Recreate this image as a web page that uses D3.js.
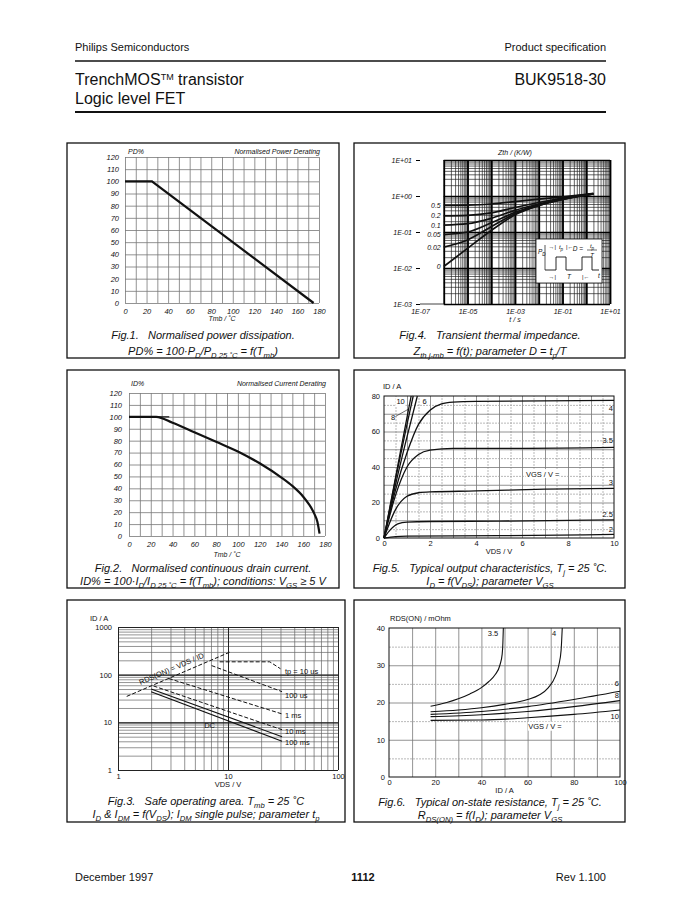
<!DOCTYPE html>
<html>
<head>
<meta charset="utf-8">
<script src="https://cdn.jsdelivr.net/npm/d3@7"></script>
<style>
  body { margin: 0; background: #fff; }
  svg text { font-family: "Liberation Sans", Arial, Helvetica, sans-serif; fill: #111; }
</style>
</head>
<body>
<div id="page"></div>
<script>
var FONT = '"Liberation Sans", Arial, Helvetica, sans-serif';

// ---------- data ----------
// Fig.1 normalised power derating
var pdTmb = [0, 25, 175];
var pdPct = [100, 100, 0];
var derateXTicks = [0, 20, 40, 60, 80, 100, 120, 140, 160, 180];
var derateYTicks = [0, 10, 20, 30, 40, 50, 60, 70, 80, 90, 100, 110, 120];

// Fig.2 normalised current derating
var idTmb = [0, 25, 40, 60, 80, 100, 120, 140, 150, 160, 165, 170, 173, 175];
var idPct = [100, 100, 95, 87, 79, 71, 61, 49, 42, 33, 27, 19, 12, 2];

// Fig.3 safe operating area (VDS / V, ID / A)
var soaXTicks = [1, 10, 100];
var soaYTicks = [1, 10, 100, 1000];
var rdsLimitV = [1.2, 10.5];
var rdsLimitI = [35, 300];
var tp10usV = [8.4, 24, 30];
var tp10usI = [186, 186, 133];
var tp100usV = [7.1, 31];
var tp100usI = [155, 44];
var tp1msV = [2.9, 31];
var tp1msI = [83, 15];
var tp10msV = [2.1, 31];
var tp10msI = [58, 7];
var tp100msV = [2, 31];
var tp100msI = [50, 5];
var dcV = [2, 31];
var dcI = [44, 4];
var soaNames = ["tp = 10 us", "100 us", "1 ms", "10 ms", "100 ms"];
var soaNameI = [118, 38, 14, 6.6, 3.9];

// Fig.4 transient thermal impedance
var zthT = [1e-6, 1e-5, 1e-4, 1e-3, 1e-2, 1e-1, 1, 2];
var zthD = ["0.5", "0.2", "0.1", "0.05", "0.02", "0"];
var zth05 = [0.55, 0.56, 0.6, 0.7, 0.82, 0.95, 1.12, 1.18];
var zth02 = [0.28, 0.29, 0.34, 0.48, 0.66, 0.88, 1.1, 1.16];
var zth01 = [0.155, 0.17, 0.24, 0.4, 0.6, 0.84, 1.08, 1.15];
var zth005 = [0.085, 0.1, 0.18, 0.35, 0.57, 0.82, 1.07, 1.14];
var zth002 = [0.038, 0.06, 0.14, 0.32, 0.55, 0.81, 1.07, 1.14];
var zth0 = [0.011, 0.035, 0.11, 0.3, 0.54, 0.8, 1.06, 1.13];
var zthXTicks = [1e-7, 1e-5, 1e-3, 1e-1, 1e1];
var zthYTicks = [1e-3, 1e-2, 1e-1, 1e0, 1e1];

// Fig.5 output characteristics (VDS / V, ID / A) per VGS
var out10 = [[0, 0], [0.5, 34], [1, 68], [1.18, 80]];
var out8 = [[0, 0], [0.5, 33], [1, 64], [1.27, 80]];
var out6 = [[0, 0], [0.5, 30], [1, 57], [1.45, 80]];
var out4 = [[0, 0], [0.5, 27], [1, 48], [1.5, 64], [2, 72], [2.5, 75.5], [3, 76.5], [4, 77], [10, 77.5]];
var out35 = [[0, 0], [0.5, 24], [1, 40], [1.5, 47], [2, 49.5], [3, 50.5], [6, 50.5], [10, 51]];
var out3 = [[0, 0], [0.5, 16], [1, 23.5], [1.5, 25.5], [2, 26], [4, 26.5], [7, 27.5], [10, 28]];
var out25 = [[0, 0], [0.3, 5], [0.6, 8], [1, 9], [2, 9.3], [5, 9.5], [10, 10.2]];
var out2 = [[0, 0], [0.5, 0.8], [1, 1], [5, 1.3], [10, 2]];
var outRightNames = ["4", "3.5", "3", "2.5", "2"];
var outRightAt = [73, 55, 31.5, 13.5, 5];
var outXTicks = [0, 2, 4, 6, 8, 10];
var outYTicks = [0, 20, 40, 60, 80];

// Fig.6 on-state resistance (ID / A, RDS(ON) / mOhm) per VGS
var rds35 = [[18, 19], [25, 20], [30, 21], [35, 22.3], [40, 24], [43, 25.5], [46, 27.5], [48, 30], [49, 33], [49.3, 36], [49.5, 40]];
var rds4 = [[18, 17.5], [30, 18], [40, 18.6], [50, 19.5], [60, 20.8], [65, 22], [69, 24], [72, 27], [73.5, 30], [74.5, 34], [75, 40]];
var rds6 = [[18, 16.8], [40, 17.6], [60, 18.9], [80, 20.8], [100, 23]];
var rds8 = [[18, 16.2], [40, 16.7], [60, 17.6], [80, 18.9], [100, 20.5]];
var rds10 = [[18, 15.2], [40, 15.3], [60, 15.9], [80, 16.8], [100, 18]];
var rdsRightNames = ["6", "8", "10"];
var rdsRightAt = [25, 21.8, 16.3];
var rdsXTicks = [0, 20, 40, 60, 80, 100];
var rdsYTicks = [0, 10, 20, 30, 40];

// ---------- page ----------
var svg = d3.select("#page").append("svg")
    .attr("width", 679)
    .attr("height", 901);
svg.append("rect").attr("width", 679).attr("height", 901).attr("fill", "#fff");

function label(x, y, s, size, anchor, italic, weight) {
    return svg.append("text")
        .attr("x", x).attr("y", y)
        .attr("font-size", size)
        .attr("text-anchor", anchor || "start")
        .attr("font-style", italic ? "italic" : "normal")
        .attr("font-weight", weight || "normal")
        .style("white-space", "pre")
        .text(s);
}

// text with subscripts: parts = [[text, isSub], ...]
function rich(x, y, parts, size, anchor) {
    var t = svg.append("text")
        .attr("x", x).attr("y", y)
        .attr("font-size", size)
        .attr("text-anchor", anchor || "middle")
        .attr("font-style", "italic")
        .style("white-space", "pre");
    var low = false;
    parts.forEach(function (p) {
        var s = t.append("tspan").text(p[0]);
        if (p[1]) {
            s.attr("font-size", size * 0.7);
            if (!low) { s.attr("dy", 2.5); low = true; }
        } else if (low) {
            s.attr("dy", -2.5); low = false;
        }
    });
    return t;
}

function box(x0, y0, x1, y1) {
    svg.append("rect")
        .attr("x", x0).attr("y", y0)
        .attr("width", x1 - x0).attr("height", y1 - y0)
        .attr("fill", "none").attr("stroke", "#111").attr("stroke-width", 1.3);
}

function line(x0, y0, x1, y1, w) {
    svg.append("line").attr("x1", x0).attr("y1", y0).attr("x2", x1).attr("y2", y1)
        .attr("stroke", "#111").attr("stroke-width", w);
}

// gridlines (axis ticks with a long tick size)
function vGrid(x, y, vals, color, w, dash) {
    var g = svg.append("g")
        .attr("transform", "translate(0," + y.range()[0] + ")")
        .call(d3.axisBottom(x).tickValues(vals)
            .tickSize(-(y.range()[0] - y.range()[1]))
            .tickFormat(""));
    g.select(".domain").remove();
    g.selectAll("line").attr("stroke", color).attr("stroke-width", w)
        .attr("stroke-dasharray", dash || null);
}
function hGrid(x, y, vals, color, w, dash, x0v) {
    var xs = x0v === undefined ? x.range()[0] : x(x0v);
    var g = svg.append("g")
        .attr("transform", "translate(" + xs + ",0)")
        .call(d3.axisLeft(y).tickValues(vals)
            .tickSize(-(x.range()[1] - xs))
            .tickFormat(""));
    g.select(".domain").remove();
    g.selectAll("line").attr("stroke", color).attr("stroke-width", w)
        .attr("stroke-dasharray", dash || null);
}

function tickLabels(x, y, xv, yv, fx, fy, size, italic, padX, padY) {
    var ax = svg.append("g")
        .attr("transform", "translate(0," + y.range()[0] + ")")
        .call(d3.axisBottom(x).tickValues(xv).tickSize(0).tickPadding(padX).tickFormat(fx));
    var ay = svg.append("g")
        .attr("transform", "translate(" + x.range()[0] + ",0)")
        .call(d3.axisLeft(y).tickValues(yv).tickSize(0).tickPadding(padY).tickFormat(fy));
    [ax, ay].forEach(function (a) {
        a.select(".domain").remove();
        a.attr("font-family", FONT).attr("font-size", size)
            .attr("font-style", italic ? "italic" : "normal");
        a.selectAll("text").attr("fill", "#111");
    });
}

function logVals(lo, hi) {
    var v = [];
    for (var e = lo; e < hi; e++)
        for (var k = 1; k < 10; k++) v.push(k * Math.pow(10, e));
    v.push(Math.pow(10, hi));
    return v;
}

// 1E+01 style labels
function sciFmt(v) {
    var e = Math.round(Math.log10(v));
    return "1E" + (e < 0 ? "-" : "+") + (Math.abs(e) < 10 ? "0" : "") + Math.abs(e);
}

function curve(x, y, pts, w, dash, smooth) {
    svg.append("path")
        .datum(pts)
        .attr("fill", "none")
        .attr("stroke", "#111")
        .attr("stroke-width", w)
        .attr("stroke-dasharray", dash || null)
        .attr("d", d3.line()
            .x(function (d) { return x(d[0]); })
            .y(function (d) { return y(d[1]); })
            .curve(smooth ? d3.curveMonotoneX : d3.curveLinear));
}

function zip(a, b) { return a.map(function (v, i) { return [v, b[i]]; }); }

// ---------- header / footer ----------
label(75, 51, "Philips Semiconductors", 11);
label(606, 51, "Product specification", 11, "end");
line(75, 61, 606, 61, 1.6);
var tt = label(75, 85, "TrenchMOS", 16);
tt.append("tspan").attr("font-size", 9).attr("dy", -5).text("TM");
tt.append("tspan").attr("dy", 5).text(" transistor");
label(75, 104, "Logic level FET", 16);
label(606, 85, "BUK9518-30", 16, "end");
line(75, 112, 606, 112, 2);

label(75, 881, "December 1997", 11);
label(363, 881, "1112", 11, "middle", false, "bold");
label(606, 881, "Rev 1.100", 11, "end");

// ---------- Fig.1 ----------
box(67, 143, 339, 358);
var x1 = d3.scaleLinear().domain([0, 180]).range([125, 319]);
var y1 = d3.scaleLinear().domain([0, 120]).range([303, 157]);
vGrid(x1, y1, d3.range(0, 181, 10), "#777", 0.8);
hGrid(x1, y1, d3.range(0, 121, 10), "#777", 0.8);
tickLabels(x1, y1, derateXTicks, derateYTicks, d3.format("d"), d3.format("d"), 7.5, true, 6, 6);
curve(x1, y1, zip(pdTmb, pdPct), 2.2);
label(128, 154, "PD%", 7, "start", true);
label(320, 154, "Normalised Power Derating", 7, "end", true);
label(x1(90), 321, "Tmb / ˚C", 7, "middle", true);
rich(203, 339, [["Fig.1.   Normalised power dissipation."]], 11);
rich(203, 355, [["PD% = 100·P"], ["D", 1], ["/P"], ["D 25 ˚C", 1], [" = f(T"], ["mb", 1], [")"]], 11);

// ---------- Fig.2 ----------
box(67, 370, 339, 588);
var x2 = d3.scaleLinear().domain([0, 180]).range([129, 325]);
var y2 = d3.scaleLinear().domain([0, 120]).range([536, 393]);
vGrid(x2, y2, d3.range(0, 181, 10), "#777", 0.8);
hGrid(x2, y2, d3.range(0, 121, 10), "#777", 0.8);
tickLabels(x2, y2, derateXTicks, derateYTicks, d3.format("d"), d3.format("d"), 7.5, true, 6, 7);
curve(x2, y2, [[25, 100], [37, 100]], 1.2);
curve(x2, y2, zip(idTmb, idPct), 2.2, null, true);
label(131, 386, "ID%", 7, "start", true);
label(326, 386, "Normalised Current Derating", 7, "end", true);
label(x2(90), 557, "Tmb / ˚C", 7, "middle", true);
rich(203, 572, [["Fig.2.   Normalised continuous drain current."]], 11);
rich(203, 585, [["ID% = 100·I"], ["D", 1], ["/I"], ["D 25 ˚C", 1], [" = f(T"], ["mb", 1], ["); conditions: V"], ["GS", 1], [" ≥ 5 V"]], 11);

// ---------- Fig.3 ----------
box(67, 600, 345, 822);
var x3 = d3.scaleLog().domain([1, 100]).range([118, 338]);
var y3 = d3.scaleLog().domain([1, 1000]).range([770, 627]);
vGrid(x3, y3, logVals(0, 2), "#666", 0.7);
hGrid(x3, y3, logVals(0, 3), "#666", 0.7);
vGrid(x3, y3, [1, 10, 100], "#222", 1);
hGrid(x3, y3, [1, 10, 100, 1000], "#222", 1.2);
tickLabels(x3, y3, soaXTicks, soaYTicks, d3.format("d"), d3.format("d"), 7.5, false, 4, 6);
curve(x3, y3, zip(rdsLimitV, rdsLimitI), 1, "4,2");
curve(x3, y3, zip(tp10usV, tp10usI), 1, "4,2");
curve(x3, y3, zip(tp100usV, tp100usI), 1, "4,2");
curve(x3, y3, zip(tp1msV, tp1msI), 1, "4,2");
curve(x3, y3, zip(tp10msV, tp10msI), 1, "4,2");
curve(x3, y3, zip(tp100msV, tp100msI), 1.1);
curve(x3, y3, zip(dcV, dcI), 1.1);
soaNames.forEach(function (n, i) {
    label(x3(33), y3(soaNameI[i]) + 3, n, 7.5);
});
label(x3(6.8), y3(9) + 3, "DC", 7.5, "middle");
var rAng = Math.atan2(y3(rdsLimitI[1]) - y3(rdsLimitI[0]), x3(rdsLimitV[1]) - x3(rdsLimitV[0])) * 180 / Math.PI;
var rx = (x3(rdsLimitV[0]) + x3(rdsLimitV[1])) / 2, ry = (y3(rdsLimitI[0]) + y3(rdsLimitI[1])) / 2;
label(0, 0, "RDS(ON) = VDS / ID", 7.5, "middle")
    .attr("transform", "translate(" + (rx - 6) + "," + (ry - 3) + ") rotate(" + rAng + ")");
label(90, 621, "ID / A", 7.5);
label(x3(10), 787, "VDS / V", 7.5, "middle");
rich(206, 805, [["Fig.3.   Safe operating area. T"], ["mb", 1], [" = 25 ˚C"]], 11);
rich(206, 818, [["I"], ["D", 1], [" & I"], ["DM", 1], [" = f(V"], ["DS", 1], ["); I"], ["DM", 1], [" single pulse; parameter t"], ["p", 1]], 11);

// ---------- Fig.4 ----------
box(354, 143, 625, 358);
var x4 = d3.scaleLog().domain([1e-7, 1e1]).range([420, 610]);
var y4 = d3.scaleLog().domain([1e-3, 1e1]).range([304, 160]);
vGrid(x4, y4, logVals(-6, 1), "#222", 0.7);
hGrid(x4, y4, logVals(-3, 1), "#222", 0.7, null, 1e-6);
vGrid(x4, y4, [1e-6, 1e-5, 1e-4, 1e-3, 1e-2, 1e-1, 1, 10], "#000", 1.8);
hGrid(x4, y4, [1e-3, 1e-2, 1e-1, 1, 10], "#000", 1.6, null, 1e-6);
tickLabels(x4, y4, zthXTicks, zthYTicks, sciFmt, sciFmt, 7, true, 5, 8);
var t4 = svg.append("g").attr("transform", "translate(420,0)")
    .call(d3.axisLeft(y4).tickValues(zthYTicks).tickSize(4).tickFormat(""));
t4.select(".domain").remove();
line(420, 304, x4(1e-6), 304, 0.8);
var zthAll = [zth05, zth02, zth01, zth005, zth002, zth0];
zthAll.forEach(function (z, i) {
    curve(x4, y4, zip(zthT, z), 1.7, null, true);
    label(x4(1e-6) - 3, y4(z[0]) + 2.5, zthD[i], 7, "end", true);
});
// pulse inset
var ix = 536, iy = 239;
svg.append("rect").attr("x", ix).attr("y", iy).attr("width", 66).attr("height", 44)
    .attr("fill", "#fff").attr("stroke", "#111").attr("stroke-width", 0.8);
svg.append("path").attr("fill", "none").attr("stroke", "#111").attr("stroke-width", 0.9)
    .attr("d", "M" + (ix + 9) + "," + (iy + 31) + "H" + (ix + 20) + "V" + (iy + 18) + "H" + (ix + 30) + "V" + (iy + 31)
        + "H" + (ix + 46) + "V" + (iy + 18) + "H" + (ix + 56) + "V" + (iy + 31) + "H" + (ix + 63));
line(ix + 9, iy + 31, ix + 9, iy + 6, 0.7);
var pd = label(ix + 2, iy + 15, "P", 6.5, "start", true);
pd.append("tspan").attr("font-size", 4.5).attr("dy", 2).text("D");
label(ix + 20, iy + 10, "→|", 6, "end");
var tp1 = label(ix + 25, iy + 10, "t", 6, "middle", true);
tp1.append("tspan").attr("font-size", 4.5).attr("dy", 1.5).text("p");
label(ix + 30, iy + 10, "|←", 6, "start");
label(ix + 47, iy + 12, "D =", 6.5, "end", true);
var tp2 = label(ix + 56, iy + 9, "t", 6, "middle", true);
tp2.append("tspan").attr("font-size", 4.5).attr("dy", 1.5).text("p");
line(ix + 51, iy + 11, ix + 61, iy + 11, 0.6);
label(ix + 56, iy + 18, "T", 6, "middle", true);
label(ix + 20, iy + 40, "→|", 6, "end");
label(ix + 33, iy + 40, "T", 6.5, "middle", true);
label(ix + 46, iy + 40, "|←", 6, "start");
label(ix + 63, iy + 39, "t", 6.5, "middle", true);
label(x4(1e-3), 155, "Zth / (K/W)", 7, "middle", true);
label(x4(1e-3), 322, "t / s", 7, "middle", true);
rich(490, 339, [["Fig.4.   Transient thermal impedance."]], 11);
rich(490, 355, [["Z"], ["th j-mb", 1], [" = f(t); parameter D = t"], ["p", 1], ["/T"]], 11);

// ---------- Fig.5 ----------
box(354, 370, 625, 588);
var x5 = d3.scaleLinear().domain([0, 10]).range([384, 614]);
var y5 = d3.scaleLinear().domain([0, 80]).range([538, 396]);
vGrid(x5, y5, d3.range(0.5, 10, 1), "#999", 0.7, "2,1");
vGrid(x5, y5, d3.range(1, 10, 1), "#777", 0.8);
hGrid(x5, y5, d3.range(5, 80, 10), "#999", 0.7, "2,1");
hGrid(x5, y5, d3.range(10, 80, 10), "#777", 0.8);
svg.append("rect").attr("x", 384).attr("y", 396).attr("width", 230).attr("height", 142)
    .attr("fill", "none").attr("stroke", "#111").attr("stroke-width", 1);
tickLabels(x5, y5, outXTicks, outYTicks, d3.format("d"), d3.format("d"), 7.5, false, 3, 4);
[out2, out25, out3, out35, out4, out6, out8, out10].forEach(function (c) {
    curve(x5, y5, c, 1.3, null, true);
});
outRightNames.forEach(function (n, i) {
    label(x5(9.95), y5(outRightAt[i]) + 2.6, n, 7.5, "end");
});
svg.append("rect").attr("x", x5(0.5)).attr("y", y5(80) + 1).attr("width", 10).attr("height", 9).attr("fill", "#fff");
label(x5(0.72), y5(77) + 2.6, "10", 7.5, "middle");
label(x5(1.76), y5(77) + 2.6, "6", 7.5, "middle");
label(x5(0.4), y5(68) + 2.6, "8", 7.5, "middle");
line(x5(0.5), y5(68.5), x5(1.05), y5(72.5), 0.6);
svg.append("rect").attr("x", x5(6.9) - 17).attr("y", y5(36) - 5).attr("width", 34).attr("height", 9).attr("fill", "#fff");
label(x5(6.9), y5(36) + 2.6, "VGS / V =", 7.5, "middle");
label(383, 389, "ID / A", 7.5);
label(x5(5), 554, "VDS / V", 7.5, "middle");
rich(490, 572, [["Fig.5.   Typical output characteristics, T"], ["j", 1], [" = 25 ˚C."]], 11);
rich(490, 585, [["I"], ["D", 1], [" = f(V"], ["DS", 1], ["); parameter V"], ["GS", 1]], 11);

// ---------- Fig.6 ----------
box(354, 600, 625, 822);
var x6 = d3.scaleLinear().domain([0, 100]).range([389, 620]);
var y6 = d3.scaleLinear().domain([0, 40]).range([777, 628]);
vGrid(x6, y6, d3.range(10, 100, 10), "#777", 0.8);
hGrid(x6, y6, d3.range(5, 40, 10), "#999", 0.7, "2,1");
hGrid(x6, y6, d3.range(10, 40, 10), "#777", 0.8);
svg.append("rect").attr("x", 389).attr("y", 628).attr("width", 231).attr("height", 149)
    .attr("fill", "none").attr("stroke", "#111").attr("stroke-width", 1);
tickLabels(x6, y6, rdsXTicks, rdsYTicks, d3.format("d"), d3.format("d"), 7.5, false, 3, 4);
[rds35, rds4, rds6, rds8, rds10].forEach(function (c) {
    curve(x6, y6, c, 1.1, null, true);
});
label(x6(45), y6(38.5) + 2.6, "3.5", 7.5, "middle");
label(x6(71.5), y6(38.5) + 2.6, "4", 7.5, "middle");
rdsRightNames.forEach(function (n, i) {
    label(x6(99.5), y6(rdsRightAt[i]) + 2.6, n, 7.5, "end");
});
svg.append("rect").attr("x", x6(67.5) - 17).attr("y", y6(13.5) - 5).attr("width", 34).attr("height", 9).attr("fill", "#fff");
label(x6(67.5), y6(13.5) + 2.6, "VGS / V =", 7.5, "middle");
label(390, 621, "RDS(ON) / mOhm", 7.5);
label(x6(50), 793, "ID / A", 7.5, "middle");
rich(490, 806, [["Fig.6.   Typical on-state resistance, T"], ["j", 1], [" = 25 ˚C."]], 11);
rich(490, 819, [["R"], ["DS(ON)", 1], [" = f(I"], ["D", 1], ["); parameter V"], ["GS", 1]], 11);
</script>
</body>
</html>
